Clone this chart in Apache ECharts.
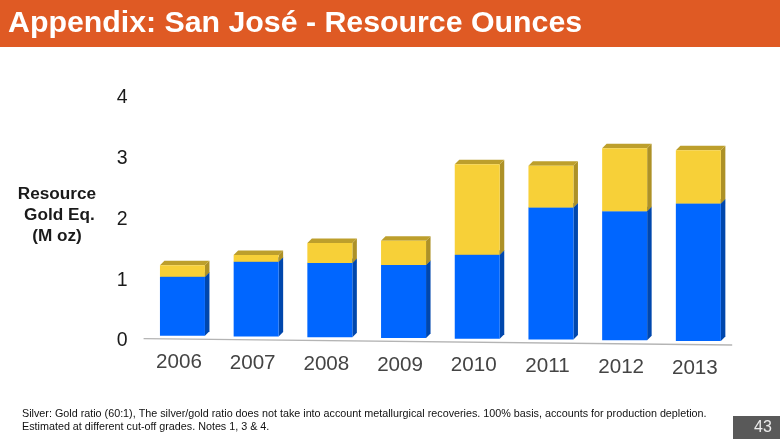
<!DOCTYPE html>
<html><head><meta charset="utf-8">
<style>html,body{margin:0;padding:0;background:#fff}#c{width:780px;height:439px}</style>
<script src="https://cdn.jsdelivr.net/npm/echarts@6/dist/echarts.min.js"></script>
</head><body><div id="c"></div>
<script>
const years = ['2006','2007','2008','2009','2010','2011','2012','2013'];
const lowerValues = [0.97,1.23,1.22,1.20,1.38,2.17,2.12,2.26];
const upperValues = [0.19,0.11,0.33,0.40,1.49,0.69,1.04,0.88];
const yTicks = [0,1,2,3,4];
const titleText = 'Appendix: San José - Resource Ounces';
const yAxisLines = ['Resource',' Gold Eq.','(M oz)'];
const noteLines = ['Silver: Gold ratio (60:1), The silver/gold ratio does not take into account metallurgical recoveries. 100% basis, accounts for production depletion.','Estimated at different cut-off grades. Notes 1, 3 & 4.'];
const pageNo = '43';

const FONT = '"Liberation Sans", Arial, sans-serif';
const tiltAt = i => -5.3 + 0.74 * i;   // perspective tilt of the picture, px
const DEPTH = 4.5, BAR_W = 45;

function box(colors){
  return function(params, api){
    const i = api.value(0);
    const p0 = api.coord([i, api.value(1)]), p1 = api.coord([i, api.value(2)]);
    const t = tiltAt(i), l = p0[0]-BAR_W/2, r = l+BAR_W, b = p0[1]+t, u = p1[1]+t, d = DEPTH;
    return {type:'group', children:[
      {type:'polygon', shape:{points:[[r,u],[r+d,u-d],[r+d,b-d],[r,b]]}, style:{fill:colors[1]}},
      {type:'polygon', shape:{points:[[l,u],[l+d,u-d],[r+d,u-d],[r,u]]}, style:{fill:colors[2]}},
      {type:'rect', shape:{x:l,y:u,width:BAR_W,height:b-u}, style:{fill:colors[0]}}
    ]};
  };
}
const lowerData = years.map((y,i)=>[i,0,lowerValues[i]]);
const upperData = years.map((y,i)=>[i,lowerValues[i],lowerValues[i]+upperValues[i]]);
const rich = {};
years.forEach((y,i)=>{ rich['y'+i] = {padding:[Math.round(0.85*i),7,0,0], fontSize:20.6, fontFamily:FONT, color:'#444444'}; });

const chart = echarts.init(document.getElementById('c'), null, {renderer:'canvas'});
chart.setOption({
  animation:false,
  backgroundColor:'#ffffff',
  grid:{left:145.6,right:44.8,top:98,bottom:98,containLabel:false},
  xAxis:{type:'category',data:years,axisTick:{show:false},axisLine:{show:false},
    axisLabel:{margin:11,interval:0,formatter:(v,i)=>'{y'+i+'|'+v+'}',rich}},
  yAxis:{type:'value',min:yTicks[0],max:yTicks[yTicks.length-1],interval:1,splitLine:{show:false},axisLine:{show:false},axisTick:{show:false},
    axisLabel:{margin:18,fontSize:19.5,fontFamily:FONT,color:'#1a1a1a'}},
  series:[
    {type:'custom',name:'baseline',silent:true,data:[[0]],z:1,encode:{x:0},
      renderItem(params,api){
        const a=api.coord([0,0]), n=years.length-1, e=api.coord([n,0]);
        const half=(e[0]-a[0])/n/2;
        return {type:'line',shape:{x1:a[0]-half-2,y1:a[1]-2.3,x2:e[0]+half-3,y2:a[1]+4},style:{stroke:'#b4b4b4',lineWidth:1.3}};
      }},
    {type:'custom',name:'Lower',data:lowerData,encode:{x:0,y:[1,2]},z:2,renderItem:box(['#0066ff','#0047ad','#0047ad'])},
    {type:'custom',name:'Upper',data:upperData,encode:{x:0,y:[1,2]},z:3,renderItem:box(['#f7d038','#ad9127','#bd9f2c'])}
  ],
  graphic:[
    {type:'rect',shape:{x:0,y:0,width:780,height:47},style:{fill:'#df5a24'},z:-1},
    {type:'text',x:8,y:24,style:{text:titleText,fill:'#ffffff',font:'bold 30.3px '+FONT,textVerticalAlign:'middle'}},
    ...yAxisLines.map((s,i)=>({type:'text',x:57,y:[194,215,236][i],style:{text:s,fill:'#1a1a1a',font:'bold 17.2px '+FONT,textAlign:'center',textVerticalAlign:'middle'}})),
    ...noteLines.map((s,i)=>({type:'text',x:22,y:[414,427][i],style:{text:s,fill:'#111111',font:'10.78px '+FONT,textVerticalAlign:'middle'}})),
    {type:'rect',shape:{x:733,y:416,width:47,height:23},style:{fill:'#595959'}},
    {type:'text',x:763,y:428,style:{text:pageNo,fill:'#ececec',font:'16px '+FONT,textAlign:'center',textVerticalAlign:'middle'}}
  ]
});
</script></body></html>
